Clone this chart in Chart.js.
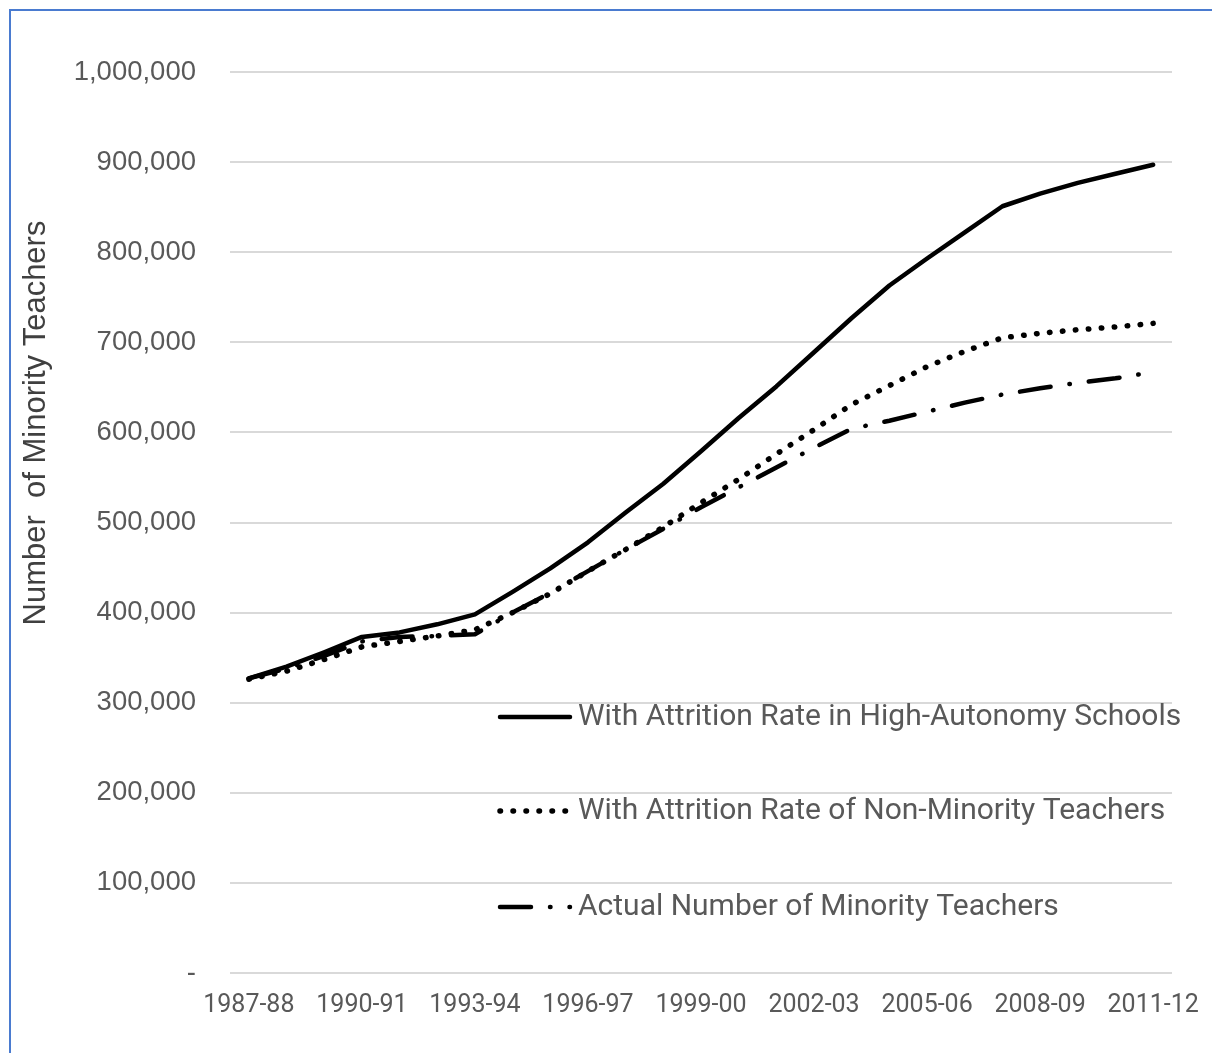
<!DOCTYPE html>
<html lang="en">
<head>
    <meta charset="UTF-8">
    <title>Minority Teachers</title>
    <style>
        body {
            margin: 0;
            background: #fff;
        }
        .frame {
            position: absolute;
            left: 9px;
            top: 9px;
            width: 1212px;
            height: 1053px;
            border-left: 2px solid #4a7bd0;
            border-top: 2px solid #4a7bd0;
        }
        .chart-box {
            position: absolute;
            left: 0;
            top: 0;
            width: 1212px;
            height: 1053px;
        }
    </style>
    <script src="https://cdn.jsdelivr.net/npm/chart.js@4"></script>
</head>
<body>
    <div class="frame"></div>
    <div class="chart-box">
        <canvas id="line-chart" width="1212" height="1053"></canvas>
    </div>

    <script>
    // school years on the x axis
    const anos = ["1987-88","1988-89","1989-90","1990-91","1991-92","1992-93","1993-94","1994-95",
        "1995-96","1996-97","1997-98","1998-99","1999-00","2000-01","2001-02","2002-03","2003-04",
        "2004-05","2005-06","2006-07","2007-08","2008-09","2009-10","2010-11","2011-12"];

    // values (number of teachers)
    const altaAutonomia = [327000,340000,356000,373000,378000,387000,398000,423000,449000,478000,
        511000,543000,579000,616000,651000,689000,727000,763000,793000,822000,851000,865000,
        877000,887000,897000];
    const naoMinoria = [326000,335000,348000,362000,368000,374000,381000,400000,421000,446000,
        470000,495000,522000,548000,576000,603000,631000,652000,673000,690000,705000,710000,
        714000,717000,721000];
    const atual = [327000,338000,352000,368000,373000,374000,376000,400000,422000,446000,470000,
        493000,517000,539000,561000,583000,604000,613000,623000,633000,642000,649000,655000,
        660000,667000];

    const nomes = ["With Attrition Rate in High-Autonomy Schools",
        "With Attrition Rate of Non-Minority Teachers",
        "Actual Number of Minority Teachers"];
    const yTicks = [0,100000,200000,300000,400000,500000,600000,700000,800000,900000,1000000];

    const cinza = "#595959";

    // legend + y title drawn by hand, like the original
    const legendaPlugin = {
        id: "legenda",
        afterDraw(chart) {
            const ctx = chart.ctx;
            const area = chart.chartArea;
            ctx.save();
            // y axis title
            ctx.translate(36, 423);
            ctx.rotate(-Math.PI / 2);
            ctx.font = "31px 'Liberation Sans', Arial, sans-serif";
            ctx.fillStyle = "#404040";
            ctx.textAlign = "center";
            ctx.textBaseline = "middle";
            ctx.fillText("Number  of Minority Teachers", 0, 0);
            ctx.restore();

            const x0 = area.left + 268;
            const linhas = [area.top + 645, area.top + 739, area.top + 835];
            chart.data.datasets.forEach((ds, i) => {
                const y = linhas[i];
                ctx.save();
                ctx.strokeStyle = ds.borderColor;
                ctx.lineWidth = ds.borderWidth;
                ctx.lineCap = ds.borderCapStyle;
                ctx.setLineDash(ds.borderDash || []);
                ctx.beginPath();
                ctx.moveTo(x0 + 2, y);
                ctx.lineTo(x0 + 72, y);
                ctx.stroke();
                ctx.restore();
                ctx.save();
                ctx.font = "30px Roboto, 'Open Sans', sans-serif";
                ctx.fillStyle = cinza;
                ctx.textBaseline = "middle";
                ctx.fillText(nomes[i], x0 + 80, y);
                ctx.restore();
            });
        }
    };

    const grafico = new Chart("line-chart", {
        type: "line",
        data: {
            labels: anos,
            datasets: [
                {
                    label: nomes[0],
                    data: altaAutonomia,
                    borderColor: "#000",
                    borderWidth: 4.5,
                    borderCapStyle: "round",
                    borderJoinStyle: "round",
                    pointRadius: 0,
                    fill: false,
                    tension: 0
                },
                {
                    label: nomes[1],
                    data: naoMinoria,
                    borderColor: "#000",
                    borderWidth: 5.5,
                    borderDash: [0.5, 12.5],
                    borderCapStyle: "round",
                    borderJoinStyle: "round",
                    pointRadius: 0,
                    fill: false,
                    tension: 0
                },
                {
                    label: nomes[2],
                    data: atual,
                    borderColor: "#000",
                    borderWidth: 4.5,
                    borderDash: [31, 19, 0.5, 19],
                    borderCapStyle: "round",
                    borderJoinStyle: "round",
                    pointRadius: 0,
                    fill: false,
                    tension: 0
                }
            ]
        },
        options: {
            responsive: false,
            animation: false,
            layout: {
                padding: { left: 12, right: 40, top: 72, bottom: 0 }
            },
            plugins: {
                legend: { display: false },
                tooltip: { enabled: false }
            },
            scales: {
                x: {
                    offset: true,
                    grid: { display: false },
                    border: { display: false },
                    ticks: {
                        autoSkip: false,
                        maxRotation: 0,
                        padding: 10,
                        color: cinza,
                        font: { family: "Roboto, sans-serif", size: 25 },
                        callback: (v, i) => (i % 3 === 0 ? anos[i] : null)
                    },
                    afterFit: (s) => { s.height = 80; }
                },
                y: {
                    min: 0,
                    max: 1000000,
                    afterBuildTicks: (s) => { s.ticks = yTicks.map(v => ({ value: v })); },
                    grid: { color: "#d9d9d9", lineWidth: 2, drawTicks: false },
                    border: { display: false },
                    ticks: {
                        padding: 34,
                        color: cinza,
                        font: { family: "'Liberation Sans', Arial, sans-serif", size: 27.5 },
                        callback: (v) => (v === 0 ? "-" : v.toLocaleString("en-US"))
                    },
                    afterFit: (s) => { s.width = 218; }
                }
            }
        },
        plugins: [legendaPlugin]
    });
    </script>
</body>
</html>
